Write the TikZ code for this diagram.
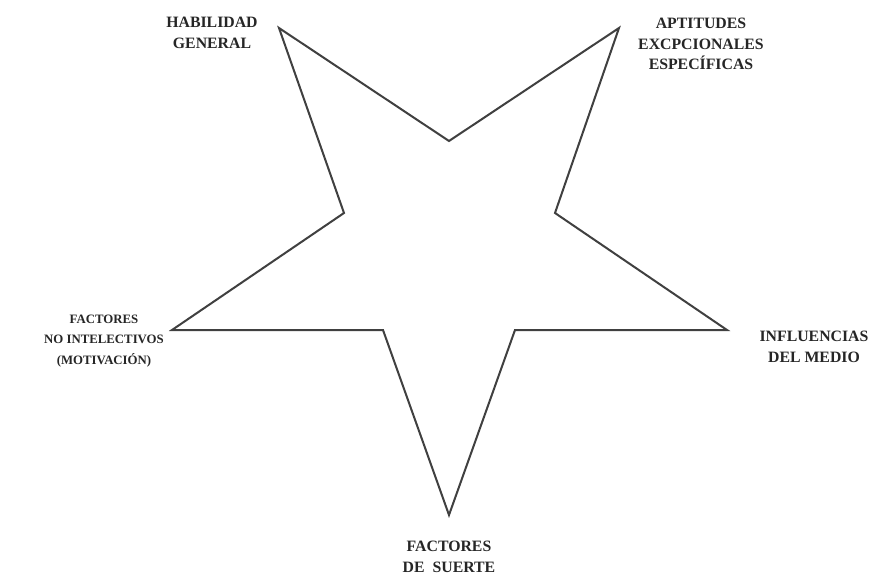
\documentclass[tikz,border=0pt]{standalone}
\usepackage{fontspec}
\setmainfont{Liberation Serif}
\begin{document}
\begin{tikzpicture}[x=1pt,y=-1pt,
  lbl/.style={align=center,font=\fontsize{15.8}{20.5}\selectfont\bfseries,text=black!85,inner sep=0pt},
  lblsmall/.style={align=center,font=\fontsize{12.8}{20.5}\selectfont\bfseries,text=black!85,inner sep=0pt},
  starline/.style={draw=black!75,line width=2pt,line join=miter}]
\useasboundingbox[fill=white] (0,0) rectangle (871,575);
\coordinate (p1) at (279,28);
\coordinate (i1) at (449,141);
\coordinate (p2) at (619,28);
\coordinate (i2) at (555,213);
\coordinate (p3) at (727,330);
\coordinate (i3) at (515,330);
\coordinate (p4) at (449,515);
\coordinate (i4) at (383,330);
\coordinate (p5) at (172,330);
\coordinate (i5) at (344,213);
\draw[starline] (p1) -- (i1) -- (p2) -- (i2) -- (p3) -- (i3) -- (p4) -- (i4) -- (p5) -- (i5) -- cycle;
\node[lbl] (hab) at (212,33) {HABILIDAD\\GENERAL};
\node[lbl] (apt) at (701,44) {APTITUDES\\EXCPCIONALES\\ESPECÍFICAS};
\node[lblsmall] (fac) at (104,341) {FACTORES\\NO INTELECTIVOS\\(MOTIVACIÓN)};
\node[lbl] (inf) at (814,347) {INFLUENCIAS\\DEL MEDIO};
\node[lbl] (sue) at (449,557) {FACTORES\\DE\ \ SUERTE};
\end{tikzpicture}
\end{document}
